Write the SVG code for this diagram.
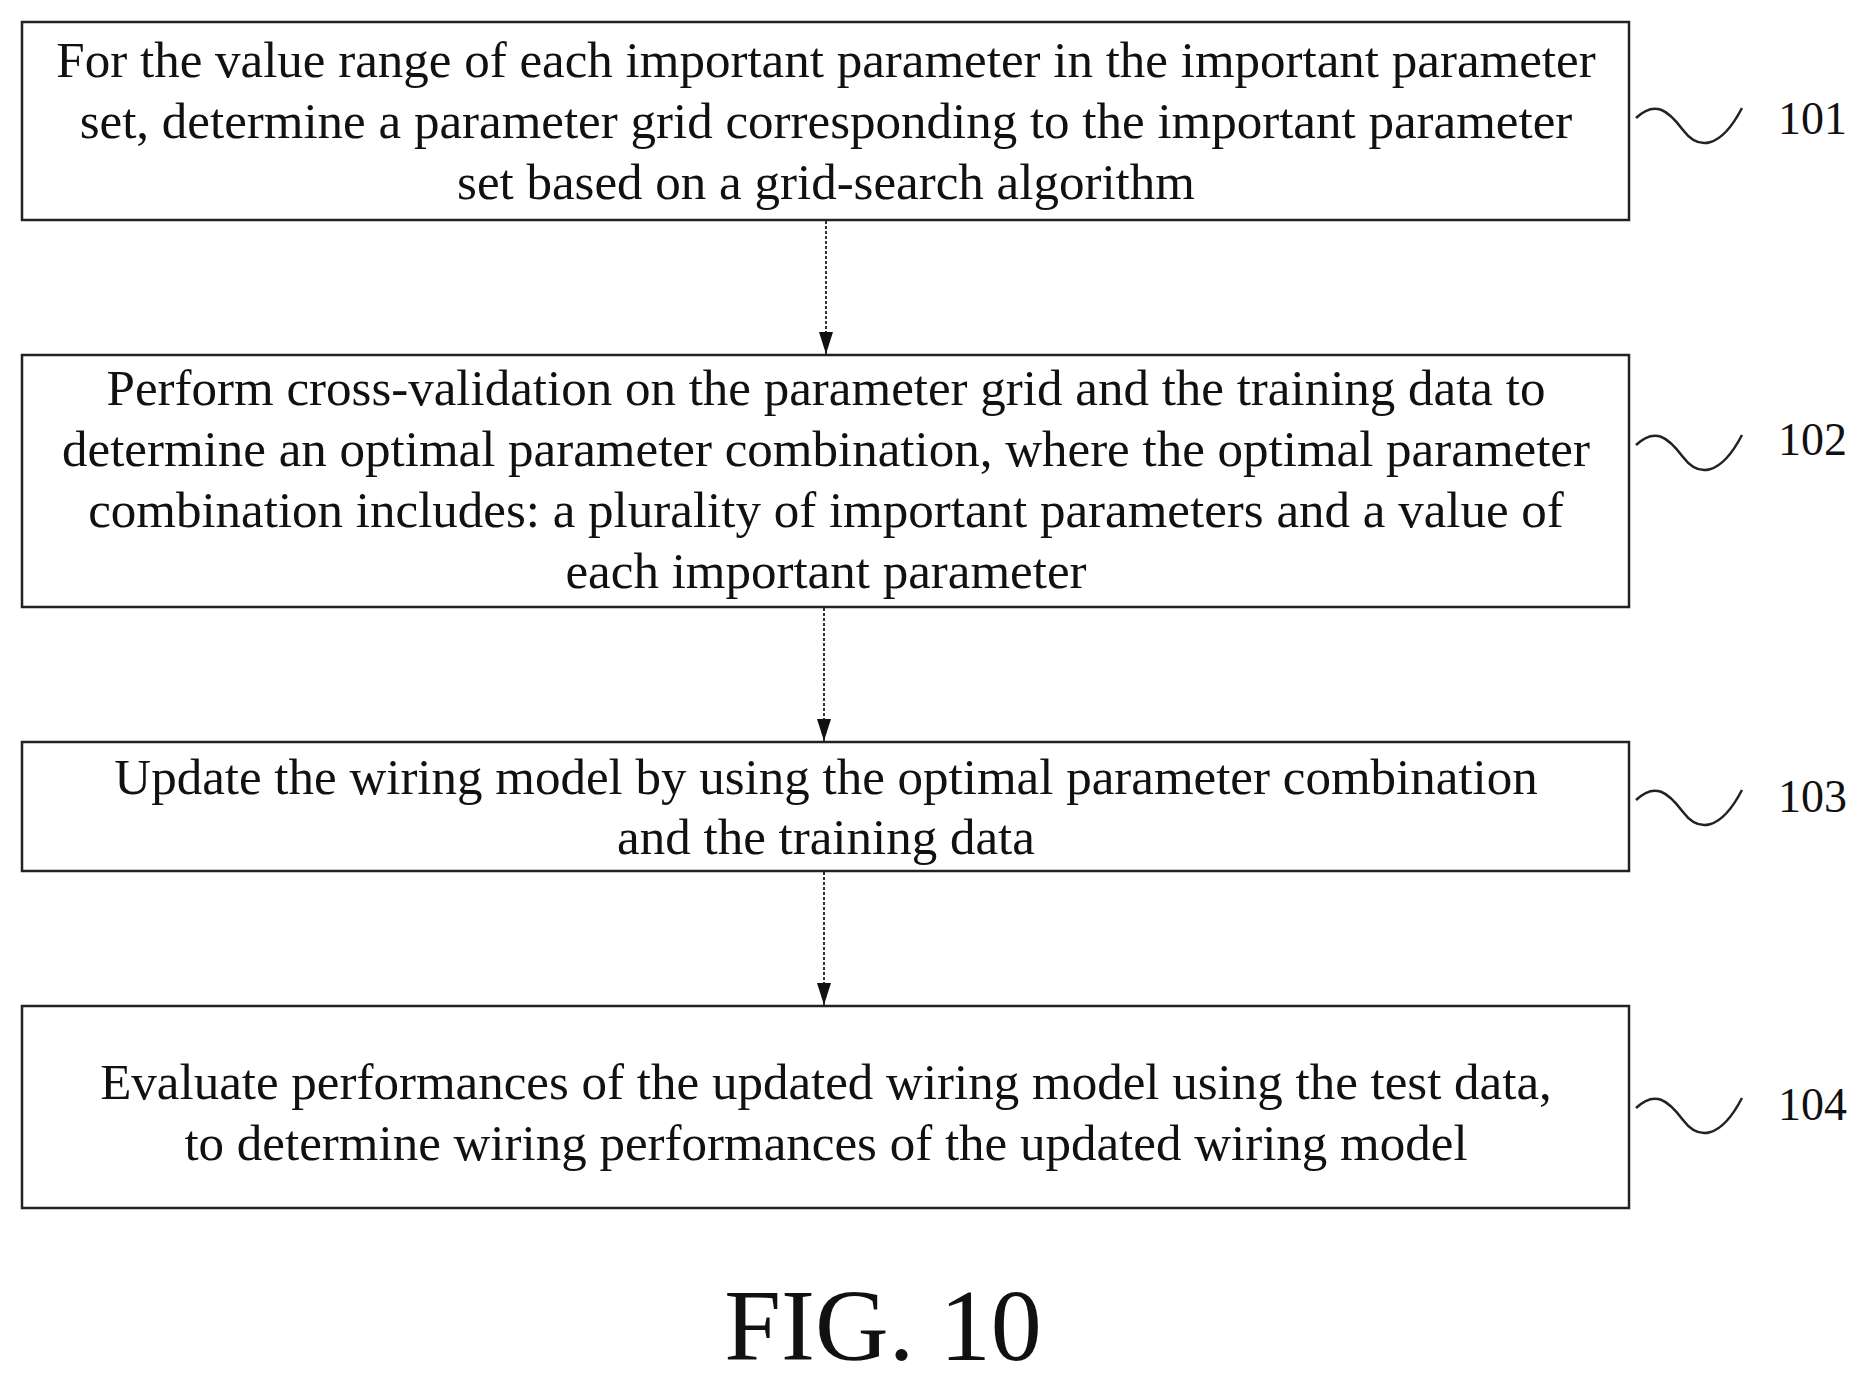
<svg xmlns="http://www.w3.org/2000/svg" width="1874" height="1382" viewBox="0 0 1874 1382">
<style>
.box{fill:#fff;stroke:#222;stroke-width:2.5}
.t{font-family:"Liberation Serif",serif;font-size:51px;fill:#111;text-anchor:middle}
.lbl{font-family:"Liberation Serif",serif;font-size:46px;fill:#111}
.w{fill:none;stroke:#222;stroke-width:2.5}
.c{stroke:#333;stroke-width:2;stroke-dasharray:3,2;fill:none}
</style>
<defs><marker id="a" markerWidth="22" markerHeight="14" refX="22" refY="7" orient="auto" markerUnits="userSpaceOnUse" viewBox="0 0 22 14"><path d="M0,0 L22,7 L0,14 Z" fill="#111"/></marker></defs>
<rect width="1874" height="1382" fill="#fff"/>
<g id="n101"><rect class="box" x="22" y="22" width="1607" height="198"/>
<text class="t" x="826" y="77">For the value range of each important parameter in the important parameter</text>
<text class="t" x="826" y="138">set, determine a parameter grid corresponding to the important parameter</text>
<text class="t" x="826" y="199">set based on a grid-search algorithm</text>
<path class="w" d="M1636,118 C1655,100 1668,110 1683,130 C1698,150 1720,150 1742,108"/>
<text class="lbl" x="1778" y="134">101</text></g>
<g id="n102"><rect class="box" x="22" y="355" width="1607" height="252"/>
<text class="t" x="826" y="405">Perform cross-validation on the parameter grid and the training data to</text>
<text class="t" x="826" y="466">determine an optimal parameter combination, where the optimal parameter</text>
<text class="t" x="826" y="527">combination includes: a plurality of important parameters and a value of</text>
<text class="t" x="826" y="588">each important parameter</text>
<path class="w" d="M1636,445 C1655,427 1668,437 1683,457 C1698,477 1720,477 1742,435"/>
<text class="lbl" x="1778" y="455">102</text></g>
<g id="n103"><rect class="box" x="22" y="742" width="1607" height="129"/>
<text class="t" x="826" y="794">Update the wiring model by using the optimal parameter combination</text>
<text class="t" x="826" y="854">and the training data</text>
<path class="w" d="M1636,800 C1655,782 1668,792 1683,812 C1698,832 1720,832 1742,790"/>
<text class="lbl" x="1778" y="812">103</text></g>
<g id="n104"><rect class="box" x="22" y="1006" width="1607" height="202"/>
<text class="t" x="826" y="1099">Evaluate performances of the updated wiring model using the test data,</text>
<text class="t" x="826" y="1160">to determine wiring performances of the updated wiring model</text>
<path class="w" d="M1636,1108 C1655,1090 1668,1100 1683,1120 C1698,1140 1720,1140 1742,1098"/>
<text class="lbl" x="1778" y="1120">104</text></g>
<g id="connectors">
<line class="c" x1="826" y1="221" x2="826" y2="354" marker-end="url(#a)"/>
<line class="c" x1="824" y1="608" x2="824" y2="741" marker-end="url(#a)"/>
<line class="c" x1="824" y1="872" x2="824" y2="1005" marker-end="url(#a)"/>
</g>
<text x="883" y="1360" font-family="Liberation Serif,serif" font-size="102" text-anchor="middle" fill="#111">FIG. 10</text>
</svg>
